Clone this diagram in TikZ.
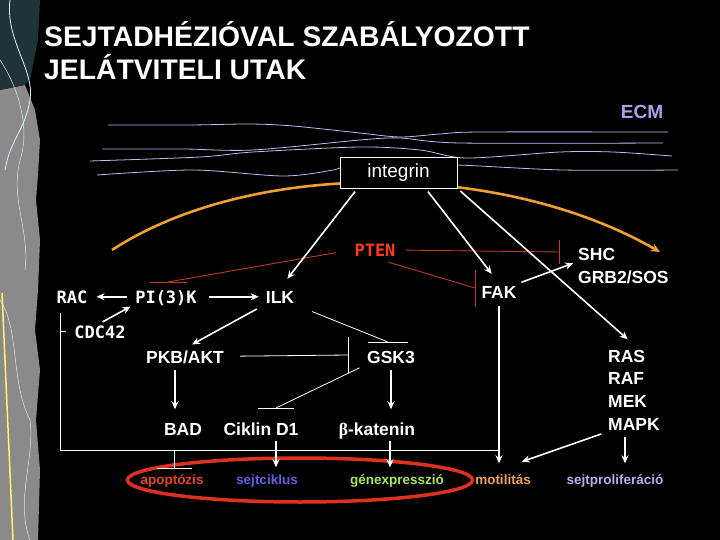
\documentclass[tikz,border=0pt]{standalone}
\usepackage{fontspec}
\setmainfont{Liberation Sans}
\newfontfamily\monofont{DejaVu Sans Mono}
\newfontfamily\greekfont{Liberation Serif}
\usetikzlibrary{arrows.meta,positioning}
\definecolor{ecmviolet}{HTML}{B59CE6}
\definecolor{ecmline}{HTML}{C9B8F2}
\definecolor{memorange}{HTML}{F0A030}
\definecolor{ptenred}{HTML}{FF3A1A}
\definecolor{ptenline}{HTML}{C0392B}
\definecolor{ellred}{HTML}{E0301E}
\definecolor{apored}{HTML}{E8442A}
\definecolor{sejtblue}{HTML}{5F5FE0}
\definecolor{genegreen}{HTML}{A8E858}
\definecolor{motorange}{HTML}{F0A050}
\definecolor{prolilac}{HTML}{C4A8F0}
\definecolor{stripgray}{HTML}{8A8A8A}
\definecolor{stripdark}{HTML}{1E3436}
\newcommand{\titlefont}{\fontsize{28.3}{32}\selectfont\bfseries}
\newcommand{\labfont}{\fontsize{17.5}{21}\selectfont\bfseries}
\newcommand{\molfont}{\fontsize{17}{20}\monofont\bfseries}
\newcommand{\outfont}{\fontsize{13.5}{16}\selectfont\bfseries}
\tikzset{
  >={Stealth[length=8pt,width=7pt]},
  lbl/.style={text=white,font=\labfont,inner sep=2pt,
              text height=12.5pt,text depth=0pt,anchor=base},
  mol/.style={lbl,font=\molfont},
  outc/.style={font=\outfont,inner xsep=2pt,inner ysep=6pt,
               text height=9.5pt,text depth=0pt,anchor=base},
  intbox/.style={draw=white,fill=black,text=white,line width=0.8pt,
                 minimum width=117pt,minimum height=31pt,
                 font=\fontsize{19}{22}\selectfont},
  arr/.style={->,white,line width=1.6pt,shorten <=3pt,shorten >=3pt},
  ln/.style={white,line width=0.8pt},
  redln/.style={ptenline,line width=0.9pt},
  ecmln/.style={ecmline,line width=0.8pt},
}
\begin{document}
\begin{tikzpicture}[x=1pt,y=-1pt]
    \useasboundingbox (0,0) rectangle (720,540);
    \fill[black] (0,0) rectangle (720,540);

    % Left strip
    \fill[stripgray] (0,90) -- (25,85) -- (35,110) -- (40,140) -- (38,175)
      -- (36,200) -- (40,240) -- (38,290) -- (35,330) -- (40,370)
      -- (36,420) -- (40,470) -- (38,540) -- (0,540) -- cycle;
    \fill[stripdark] (0,0) -- (40,0) -- (38,40) -- (30,80) -- (25,85)
      -- (0,90) -- cycle;
    \draw[white!85!cyan,line width=0.8pt] (10,0) .. controls (5,40) and (35,70) .. (30,100)
      .. controls (25,130) and (10,140) .. (5,170);
    \draw[white!80!gray,line width=0.5pt] (0,60) .. controls (20,90) and (30,130) .. (20,160)
      .. controls (10,200) and (30,230) .. (25,270);
    \draw[white!80!gray,line width=0.5pt] (0,300) .. controls (20,330) and (10,380) .. (30,420)
      .. controls (35,460) and (15,500) .. (30,540);
    \draw[yellow!60!white,line width=1.5pt] (2,293) -- (13,540);

    % Title
    \node[text=white,font=\titlefont,anchor=base west,inner sep=0pt]
          (title1) at (44,47) {SEJTADHÉZIÓVAL SZABÁLYOZOTT};
    \node[text=white,font=\titlefont,anchor=base west,inner sep=0pt]
          (title2) at (44,80) {JELÁTVITELI UTAK};

    % ECM fibres
    \node[lbl,text=ecmviolet,font=\fontsize{19}{22}\selectfont\bfseries]
          (ecm) at (642,119) {ECM};
    \draw[ecmln] plot[smooth,tension=0.5] coordinates {(108,125) (190,125)
      (250,124) (293,126) (360,133) (400,137) (440,134) (480,132) (668,132)};
    \draw[ecmln] plot[smooth,tension=0.5] coordinates {(102,149) (183,149)
      (253,150) (360,140) (400,138) (460,143) (663,143)};
    \draw[ecmln] plot[smooth,tension=0.5] coordinates {(90,161) (200,157)
      (253,152) (360,147) (420,150) (467,158) (560,152) (613,152) (672,156)};
    \draw[ecmln] plot[smooth,tension=0.5] coordinates {(97,175) (193,170)
      (283,176) (333,170) (360,163) (457,165) (563,170) (678,170)};

    % Membrane
    \coordinate (mem1) at (112,250);
    \coordinate (mem2) at (660,252);
    \draw[memorange,line width=2.6pt,-{Stealth[length=9pt,width=8pt]}]
      (mem1) .. controls (250,160) and (500,160) .. (mem2);

    % Integrin
    \node[intbox] (integ) at (398.5,172.5) {integrin};

    % Signalling nodes
    \node[mol,text=ptenred] (pten) at (375,256) {PTEN};
    \node[mol] (rac) at (72,303) {RAC};
    \node[mol] (pik) at (166,303) {PI(3)K};
    \node[mol] (cdc) at (100,338) {CDC42};
    \node[lbl] (ilk) at (280,303) {ILK};
    \node[lbl] (fak) at (499,298) {FAK};
    \node[lbl,anchor=base west] (shc) at (576,260) {SHC};
    \node[lbl,anchor=base west] (grb) at (576,283) {GRB2/SOS};
    \node[lbl] (pkb) at (185,363) {PKB/AKT};
    \node[lbl] (gsk) at (391,363) {GSK3};
    \node[lbl] (bad) at (183,435) {BAD};
    \node[lbl] (cik) at (261,435) {Ciklin D1};
    \node[lbl] (kat) at (377,435) {{\greekfont β}-katenin};
    \foreach \n/\t [count=\i] in {ras/RAS,raf/RAF,mek/MEK,mapk/MAPK}
      \node[lbl,anchor=base west] (\n) at (606,339.3+22.7*\i) {\t};

    % Outcomes
    \draw[ellred,line width=3.5pt] (300,480) ellipse [x radius=172.5,y radius=22];
    \node[outc,text=apored] (apo) at (172,484) {apoptózis};
    \node[outc,text=sejtblue] (sejt) at (267,484) {sejtciklus};
    \node[outc,text=genegreen] (gen) at (397,484) {génexpresszió};
    \node[outc,text=motorange] (mot) at (503,484) {motilitás};
    \node[outc,text=prolilac] (pro) at (615,484) {sejtproliferáció};

    % Inhibition ends
    \coordinate (shcbar) at (559,252);
    \coordinate (fakbar) at (475,288);
    \coordinate (pikbar) at (168,282);
    \coordinate (pkbbar) at (348,355);
    \coordinate (ilkbar) at (388,342);
    \coordinate (cikbar) at (276,408);
    \coordinate (apobar) at (174,468);

    % PTEN inhibitions
    \draw[redln,shorten <=8pt] (pten) -- (shcbar);
    \draw[redln] (shcbar) ++(0,-12) -- ++(0,24);
    \draw[redln,shorten <=14pt] (pten.south) -- (fakbar);
    \draw[redln] (fakbar) ++(0,-18) -- ++(0,37);
    \draw[redln,shorten <=17pt] (pten.west) -- (pikbar);
    \draw[redln] (pikbar) ++(-18,0) -- ++(37,0);

    % Arrows
    \draw[arr,shorten <=4pt,shorten >=12pt] ([xshift=-41pt]integ.south) -- (ilk.north);
    \draw[arr,shorten <=4pt,shorten >=12pt] ([xshift=27pt]integ.south) -- (fak.north);
    \draw[arr,shorten <=4pt,shorten >=12pt] (integ.south east) -- ([xshift=10pt]ras.north);
    \draw[arr] (fak.north east) -- (shc.south west);
    \draw[arr] (cdc.north) -- (pik.south west);
    \draw[arr,shorten <=6pt,shorten >=7pt] (pik) -- (rac);
    \draw[arr,shorten <=10pt,shorten >=5pt] (pik) -- (ilk);
    \draw[arr,shorten <=8pt,shorten >=8pt] (ilk.south west) -- (pkb.north);
    \draw[arr,shorten <=5pt,shorten >=11pt] ([xshift=-10pt]pkb.south)
      -- ([xshift=-10pt]pkb.south |- bad.north);
    \draw[arr,shorten <=5pt,shorten >=11pt] (gsk.south) -- (gsk.south |- kat.north);
    \draw[arr,shorten <=4pt,shorten >=1pt] ([xshift=15pt]cik.south)
      -- ([xshift=15pt]cik.south |- sejt.north);
    \draw[arr,shorten <=4pt,shorten >=1pt] ([xshift=13pt]kat.south)
      -- ([xshift=13pt]kat.south |- gen.north);
    \draw[arr,shorten <=6pt,shorten >=5pt] (fak) -- (fak |- mot.north);
    \draw[arr,shorten <=5pt,shorten >=20pt] (mapk.south west) -- (mot.north);
    \draw[arr,shorten <=5pt,shorten >=5pt] ([xshift=-9pt]mapk.south)
      -- ([xshift=-9pt]mapk.south |- pro.north);

    % Inhibitions
    \draw[ln,shorten <=14pt] (pkb) -- (pkbbar);
    \draw[ln] (pkbbar) ++(0,-18) -- ++(0,36);
    \draw[ln,shorten <=17pt] (ilk.south east) -- (ilkbar);
    \draw[ln] (ilkbar) ++(-20,0) -- ++(40,0);
    \draw[ln,shorten <=6pt] (gsk.south west) -- (cikbar);
    \draw[ln] (cikbar) ++(-18,0) -- ++(36,0);
    \draw[ln,shorten <=13pt] ([xshift=-9pt]bad.south) -- (apobar);
    \draw[ln] (apobar) ++(-17,0) -- ++(35,0);

    % RAC line
    \coordinate (rl) at (60,313);
    \coordinate (fj) at (499,450);
    \draw[ln] (rl) |- (fj);
    \draw[ln] (rl |- cdc.west) -- ++(6,0);
\end{tikzpicture}
\end{document}
